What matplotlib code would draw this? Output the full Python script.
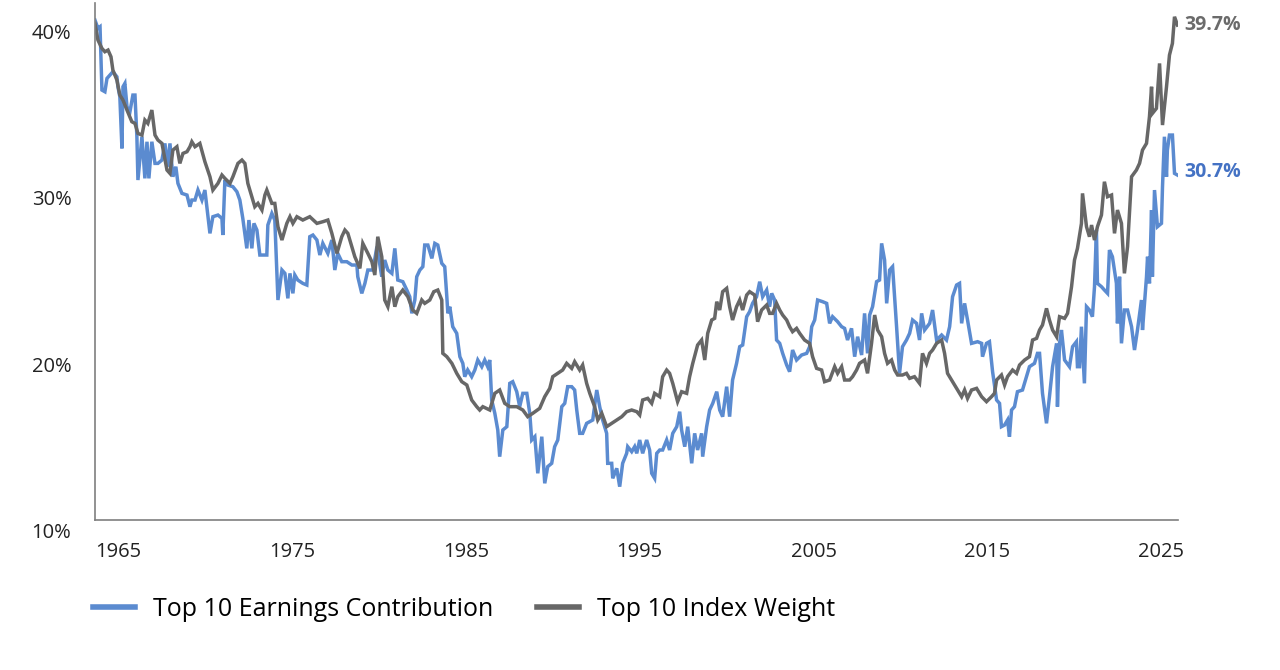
import matplotlib
matplotlib.use("Agg")
import matplotlib.pyplot as plt
import matplotlib.transforms as mtransforms

plt.rcParams['font.family'] = ['Open Sans', 'DejaVu Sans']

# Top 10 Index Weight (%)
weight_years = [
    1963.68, 1963.85, 1964.08, 1964.25, 1964.43, 1964.6, 1964.71, 1964.94, 1965.11, 1965.29,
    1965.52, 1965.8, 1965.98, 1966.15, 1966.38, 1966.55, 1966.72, 1966.95, 1967.13, 1967.3,
    1967.53, 1967.82, 1967.99, 1968.16, 1968.39, 1968.56, 1968.74, 1968.97, 1969.14, 1969.25,
    1969.43, 1969.71, 1970.0, 1970.29, 1970.46, 1970.75, 1970.98, 1971.15, 1971.44, 1971.61,
    1971.9, 1972.13, 1972.3, 1972.47, 1972.7, 1972.87, 1973.05, 1973.28, 1973.45, 1973.56,
    1973.85, 1974.02, 1974.2, 1974.43, 1974.71, 1974.89, 1975.06, 1975.29, 1975.63, 1976.03,
    1976.44, 1976.78, 1977.07, 1977.3, 1977.59, 1977.87, 1978.05, 1978.22, 1978.45, 1978.62,
    1978.91, 1979.08, 1979.37, 1979.6, 1979.77, 1979.94, 1980.17, 1980.34, 1980.52, 1980.75,
    1980.92, 1981.09, 1981.38, 1981.67, 1981.95, 1982.18, 1982.47, 1982.64, 1982.93, 1983.16,
    1983.39, 1983.62, 1983.68, 1983.91, 1984.2, 1984.48, 1984.77, 1985.06, 1985.34, 1985.63,
    1985.8, 1985.98, 1986.38, 1986.67, 1986.95, 1987.24, 1987.53, 1987.93, 1988.28, 1988.56,
    1988.85, 1989.25, 1989.54, 1989.83, 1990.0, 1990.29, 1990.57, 1990.8, 1991.09, 1991.26,
    1991.55, 1991.72, 1991.95, 1992.13, 1992.41, 1992.59, 1992.82, 1993.1, 1993.39, 1993.68,
    1993.97, 1994.25, 1994.54, 1994.83, 1995.0, 1995.17, 1995.46, 1995.69, 1995.86, 1996.15,
    1996.32, 1996.55, 1996.72, 1996.9, 1997.18, 1997.41, 1997.7, 1997.87, 1998.05, 1998.33,
    1998.56, 1998.74, 1998.91, 1999.14, 1999.31, 1999.43, 1999.6, 1999.77, 2000.0, 2000.17,
    2000.34, 2000.57, 2000.75, 2000.92, 2001.15, 2001.32, 2001.61, 2001.78, 2002.01, 2002.3,
    2002.47, 2002.64, 2002.87, 2003.05, 2003.22, 2003.45, 2003.62, 2003.79, 2004.02, 2004.2,
    2004.48, 2004.77, 2004.94, 2005.17, 2005.46, 2005.63, 2005.92, 2006.21, 2006.38, 2006.61,
    2006.78, 2007.07, 2007.24, 2007.47, 2007.64, 2007.93, 2008.1, 2008.33, 2008.51, 2008.68,
    2008.91, 2009.08, 2009.25, 2009.48, 2009.66, 2009.83, 2010.11, 2010.34, 2010.52, 2010.8,
    2011.09, 2011.26, 2011.49, 2011.67, 2011.84, 2012.07, 2012.36, 2012.53, 2012.7, 2012.99,
    2013.28, 2013.51, 2013.68, 2013.85, 2014.08, 2014.37, 2014.66, 2014.94, 2015.23, 2015.4,
    2015.52, 2015.8, 2015.98, 2016.15, 2016.44, 2016.67, 2016.84, 2017.13, 2017.41, 2017.59,
    2017.82, 2017.99, 2018.16, 2018.39, 2018.56, 2018.74, 2018.97, 2019.14, 2019.43, 2019.6,
    2019.83, 2020.0, 2020.17, 2020.4, 2020.46, 2020.69, 2020.86, 2020.98, 2021.15, 2021.32,
    2021.55, 2021.72, 2021.9, 2022.13, 2022.3, 2022.47, 2022.7, 2022.87, 2023.05, 2023.28,
    2023.56, 2023.74, 2023.91, 2024.14, 2024.31, 2024.43, 2024.48, 2024.71, 2024.89, 2025.06,
    2025.29, 2025.46, 2025.63, 2025.75, 2025.92,
]
weight_pct = [
    39.8, 38.8, 38.3, 38.1, 38.2, 37.8, 37.0, 36.4, 35.5, 35.2,
    34.6, 33.9, 33.8, 33.2, 33.1, 34.0, 33.8, 34.6, 33.1, 32.8,
    32.6, 31.0, 30.8, 32.2, 32.4, 31.4, 32.0, 32.1, 32.4, 32.7,
    32.4, 32.6, 31.5, 30.6, 29.8, 30.2, 30.7, 30.5, 30.2, 30.6,
    31.4, 31.6, 31.4, 30.2, 29.4, 28.8, 29.0, 28.6, 29.5, 29.8,
    29.0, 29.0, 27.6, 26.8, 27.8, 28.2, 27.8, 28.2, 28.0, 28.2,
    27.8, 27.9, 28.0, 27.2, 26.0, 27.0, 27.4, 27.2, 26.4, 25.8,
    25.1, 26.6, 26.0, 25.5, 24.7, 27.0, 25.8, 23.2, 22.8, 24.0,
    22.8, 23.4, 23.8, 23.4, 22.6, 22.4, 23.2, 23.0, 23.2, 23.7,
    23.8, 23.2, 20.0, 19.8, 19.4, 18.8, 18.3, 18.1, 17.2, 16.8,
    16.6, 16.8, 16.6, 17.6, 17.8, 17.0, 16.8, 16.8, 16.6, 16.2,
    16.4, 16.7, 17.4, 17.9, 18.6, 18.8, 19.0, 19.4, 19.1, 19.5,
    19.0, 19.3, 18.2, 17.6, 16.8, 16.0, 16.4, 15.6, 15.8, 16.0,
    16.2, 16.5, 16.6, 16.5, 16.3, 17.2, 17.3, 17.0, 17.6, 17.4,
    18.6, 19.0, 18.8, 18.2, 17.1, 17.7, 17.6, 18.6, 19.4, 20.5,
    20.8, 19.6, 21.2, 22.0, 22.1, 23.1, 22.6, 23.7, 23.9, 22.8,
    22.0, 22.8, 23.2, 22.6, 23.5, 23.7, 23.5, 21.9, 22.6, 22.9,
    22.4, 22.4, 23.0, 22.6, 22.3, 22.0, 21.6, 21.3, 21.5, 21.2,
    20.8, 20.6, 19.8, 19.1, 19.0, 18.3, 18.4, 19.2, 18.8, 19.2,
    18.4, 18.4, 18.6, 19.0, 19.4, 19.6, 18.8, 20.6, 22.3, 21.4,
    21.0, 20.0, 19.4, 19.6, 19.0, 18.7, 18.7, 18.8, 18.5, 18.6,
    18.2, 20.0, 19.4, 20.0, 20.2, 20.6, 20.8, 20.0, 18.8, 18.3,
    17.8, 17.4, 17.8, 17.3, 17.8, 17.9, 17.4, 17.1, 17.4, 17.6,
    18.4, 18.7, 18.1, 18.6, 19.0, 18.8, 19.3, 19.6, 19.8, 20.8,
    20.9, 21.4, 21.7, 22.7, 22.0, 21.4, 21.0, 22.2, 22.1, 22.4,
    24.0, 25.6, 26.3, 27.8, 29.6, 27.6, 27.0, 27.7, 26.8, 27.6,
    28.3, 30.3, 29.4, 29.5, 27.2, 28.6, 27.8, 24.8, 26.4, 30.6,
    31.0, 31.4, 32.2, 32.6, 34.2, 36.0, 34.4, 34.7, 37.4, 33.7,
    36.0, 37.9, 38.6, 40.2, 39.7,
]

# Top 10 Earnings Contribution (%)
earn_years = [
    1963.68, 1963.85, 1963.97, 1964.08, 1964.25, 1964.37, 1964.54, 1964.71, 1964.94, 1965.0,
    1965.11, 1965.23, 1965.29, 1965.4, 1965.52, 1965.69, 1965.86, 1965.98, 1966.09, 1966.15,
    1966.38, 1966.55, 1966.67, 1966.78, 1966.95, 1967.13, 1967.3, 1967.53, 1967.7, 1967.87,
    1967.99, 1968.16, 1968.33, 1968.45, 1968.68, 1968.97, 1969.14, 1969.25, 1969.43, 1969.6,
    1969.83, 1970.0, 1970.29, 1970.46, 1970.75, 1970.98, 1971.03, 1971.15, 1971.32, 1971.61,
    1971.84, 1972.01, 1972.18, 1972.41, 1972.53, 1972.7, 1972.82, 1972.99, 1973.16, 1973.33,
    1973.56, 1973.62, 1973.85, 1974.02, 1974.2, 1974.43, 1974.6, 1974.77, 1974.89, 1975.06,
    1975.17, 1975.34, 1975.63, 1975.86, 1976.03, 1976.21, 1976.44, 1976.61, 1976.78, 1977.07,
    1977.3, 1977.47, 1977.64, 1977.87, 1978.16, 1978.45, 1978.74, 1978.79, 1979.02, 1979.2,
    1979.37, 1979.66, 1979.89, 1980.06, 1980.17, 1980.34, 1980.52, 1980.75, 1980.92, 1981.09,
    1981.38, 1981.61, 1981.78, 1981.9, 1982.07, 1982.18, 1982.36, 1982.53, 1982.64, 1982.82,
    1983.05, 1983.22, 1983.39, 1983.62, 1983.79, 1983.91, 1983.97, 1984.08, 1984.25, 1984.48,
    1984.66, 1984.83, 1984.94, 1985.11, 1985.34, 1985.52, 1985.69, 1985.92, 1986.09, 1986.26,
    1986.38, 1986.49, 1986.67, 1986.84, 1986.95, 1987.13, 1987.36, 1987.53, 1987.7, 1987.93,
    1988.1, 1988.28, 1988.51, 1988.68, 1988.79, 1988.97, 1989.14, 1989.37, 1989.54, 1989.71,
    1989.94, 1990.11, 1990.29, 1990.52, 1990.69, 1990.86, 1991.09, 1991.26, 1991.38, 1991.55,
    1991.72, 1991.95, 1992.13, 1992.3, 1992.53, 1992.7, 1992.87, 1993.1, 1993.16, 1993.39,
    1993.45, 1993.68, 1993.85, 1994.02, 1994.25, 1994.31, 1994.54, 1994.71, 1994.83, 1995.0,
    1995.17, 1995.4, 1995.57, 1995.69, 1995.86, 1995.98, 1996.15, 1996.32, 1996.55, 1996.72,
    1996.9, 1997.13, 1997.3, 1997.41, 1997.59, 1997.76, 1997.99, 1998.16, 1998.33, 1998.56,
    1998.62, 1998.85, 1999.02, 1999.2, 1999.43, 1999.6, 1999.77, 2000.0, 2000.17, 2000.34,
    2000.57, 2000.75, 2000.92, 2001.15, 2001.32, 2001.49, 2001.72, 2001.9, 2002.07, 2002.3,
    2002.47, 2002.59, 2002.76, 2002.87, 2003.05, 2003.22, 2003.45, 2003.62, 2003.79, 2004.02,
    2004.31, 2004.6, 2004.77, 2004.89, 2005.06, 2005.23, 2005.52, 2005.75, 2005.92, 2006.09,
    2006.38, 2006.61, 2006.78, 2006.95, 2007.18, 2007.36, 2007.53, 2007.76, 2007.93, 2008.1,
    2008.22, 2008.39, 2008.62, 2008.79, 2008.91, 2009.08, 2009.2, 2009.37, 2009.54, 2009.77,
    2009.94, 2010.11, 2010.34, 2010.52, 2010.69, 2010.92, 2011.09, 2011.21, 2011.38, 2011.67,
    2011.84, 2012.07, 2012.36, 2012.64, 2012.82, 2012.99, 2013.22, 2013.39, 2013.51, 2013.68,
    2013.85, 2014.08, 2014.43, 2014.66, 2014.71, 2014.94, 2015.11, 2015.29, 2015.52, 2015.69,
    2015.8, 2015.98, 2016.15, 2016.26, 2016.38, 2016.55, 2016.72, 2017.01, 2017.24, 2017.41,
    2017.7, 2017.87, 2017.99, 2018.16, 2018.39, 2018.56, 2018.74, 2018.97, 2019.02, 2019.14,
    2019.25, 2019.43, 2019.71, 2019.89, 2020.11, 2020.17, 2020.29, 2020.4, 2020.57, 2020.69,
    2020.86, 2021.03, 2021.15, 2021.26, 2021.32, 2021.55, 2021.72, 2021.9, 2022.01, 2022.18,
    2022.41, 2022.47, 2022.59, 2022.7, 2022.87, 2023.05, 2023.28, 2023.45, 2023.62, 2023.85,
    2023.91, 2024.14, 2024.2, 2024.31, 2024.43, 2024.48, 2024.6, 2024.77, 2025.0, 2025.06,
    2025.17, 2025.29, 2025.34, 2025.46, 2025.63, 2025.75, 2025.92,
]
earn_pct = [
    40.0, 39.5, 39.6, 35.8, 35.7, 36.5, 36.7, 36.9, 36.6, 36.0,
    35.4, 32.3, 36.0, 36.2, 34.8, 34.5, 35.5, 35.5, 33.0, 30.4,
    33.0, 30.5, 32.7, 30.5, 32.7, 31.4, 31.4, 31.6, 32.6, 31.2,
    32.6, 30.6, 31.2, 30.2, 29.6, 29.5, 28.8, 29.2, 29.2, 29.8,
    29.2, 29.8, 27.2, 28.2, 28.3, 28.1, 27.1, 30.4, 30.1, 30.0,
    29.7, 29.2, 28.1, 26.3, 28.0, 26.3, 27.8, 27.4, 25.9, 25.9,
    25.9, 27.7, 28.4, 28.0, 23.2, 25.0, 24.8, 23.3, 24.8, 23.6,
    24.7, 24.4, 24.2, 24.1, 27.0, 27.1, 26.8, 25.9, 26.6, 26.0,
    26.8, 25.0, 26.0, 25.5, 25.5, 25.3, 25.3, 24.6, 23.6, 24.2,
    25.0, 25.0, 26.4, 25.3, 24.6, 25.6, 25.0, 24.8, 26.3, 24.4,
    24.3, 23.8, 23.4, 22.4, 23.2, 24.6, 25.0, 25.2, 26.5, 26.5,
    25.7, 26.6, 26.5, 25.4, 25.2, 23.4, 22.4, 22.8, 21.6, 21.2,
    19.8, 19.4, 18.6, 19.0, 18.6, 19.0, 19.6, 19.2, 19.6, 19.2,
    19.6, 17.2, 16.4, 15.4, 13.8, 15.4, 15.6, 18.2, 18.3, 17.7,
    16.8, 17.6, 17.6, 16.4, 14.8, 15.0, 12.8, 15.0, 12.2, 13.2,
    13.4, 14.4, 14.8, 16.8, 17.0, 18.0, 18.0, 17.8, 16.6, 15.2,
    15.2, 15.8, 15.9, 16.0, 17.8, 16.8, 16.0, 15.2, 13.4, 13.4,
    12.5, 13.1, 12.0, 13.4, 14.0, 14.4, 14.1, 14.4, 14.0, 14.8,
    14.0, 14.8, 14.2, 12.8, 12.5, 14.0, 14.2, 14.2, 14.8, 14.2,
    15.2, 15.6, 16.5, 15.4, 14.4, 15.6, 13.4, 15.2, 14.2, 15.2,
    13.8, 15.6, 16.6, 17.0, 17.7, 16.6, 16.2, 18.0, 16.2, 18.4,
    19.4, 20.4, 20.5, 22.2, 22.5, 23.0, 23.4, 24.3, 23.4, 23.8,
    22.8, 23.6, 23.2, 20.8, 20.6, 20.0, 19.3, 18.9, 20.2, 19.6,
    19.9, 20.0, 20.4, 21.6, 22.0, 23.2, 23.1, 23.0, 21.8, 22.2,
    21.9, 21.6, 21.5, 20.8, 21.5, 19.8, 21.0, 19.9, 22.4, 20.0,
    22.3, 22.8, 24.3, 24.4, 26.6, 25.6, 23.0, 25.0, 25.2, 21.6,
    18.8, 20.4, 20.8, 21.2, 22.0, 21.8, 20.8, 22.4, 21.4, 21.8,
    22.6, 20.8, 21.1, 20.8, 21.6, 23.4, 24.1, 24.2, 21.8, 23.0,
    22.0, 20.6, 20.7, 20.6, 19.8, 20.6, 20.7, 18.9, 17.2, 17.0,
    15.6, 15.7, 16.0, 15.0, 16.6, 16.8, 17.7, 17.8, 18.6, 19.2,
    19.4, 20.0, 20.0, 17.6, 15.8, 17.4, 19.2, 20.6, 16.8, 20.6,
    21.4, 19.6, 19.2, 20.4, 20.7, 19.2, 19.2, 21.6, 18.2, 22.8,
    22.6, 22.2, 24.0, 27.4, 24.2, 24.0, 23.8, 23.6, 26.2, 25.8,
    24.2, 21.8, 24.6, 20.6, 22.6, 22.6, 21.6, 20.2, 21.4, 23.2,
    21.4, 24.6, 25.8, 24.2, 28.6, 24.6, 29.8, 27.6, 27.8, 30.0,
    33.0, 30.6, 32.2, 33.1, 33.1, 30.8, 30.7,
]

year_ticks = [1965, 1975, 1985, 1995, 2005, 2015, 2025]
pct_ticks = [10, 20, 30, 40]

blue = '#5b8bd0'
gray = '#676767'

fig = plt.figure(figsize=(12.8, 6.7), dpi=100)
ax = fig.add_axes([0.0742, 0.2239, 0.8461, 0.771])

ax.plot(earn_years, earn_pct, color=blue, lw=2.5, solid_joinstyle='miter',
        label='Top 10 Earnings Contribution')
ax.plot(weight_years, weight_pct, color=gray, lw=2.5, solid_joinstyle='miter',
        label='Top 10 Index Weight')

ax.set_xlim(1963.68, 2025.95)
ax.set_ylim(10, 41)
ax.set_xticks(year_ticks)
ax.set_xticklabels([str(y) for y in year_ticks])
ax.set_yticks(pct_ticks)
ax.set_yticklabels(['%d%%' % p for p in pct_ticks])
ax.tick_params(length=0, labelsize=14.5, colors='#222222')
ax.tick_params(axis='y', pad=17)
ax.tick_params(axis='x', pad=16)

# the y labels sit a little below their gridline positions in the original
shift = mtransforms.ScaledTranslation(0, -11 / 100, fig.dpi_scale_trans)
for lab in ax.get_yticklabels():
    lab.set_transform(lab.get_transform() + shift)

for side in ['top', 'right']:
    ax.spines[side].set_visible(False)
for side in ['left', 'bottom']:
    ax.spines[side].set_color('#7f7f7f')
    ax.spines[side].set_linewidth(1.2)

ax.annotate('%.1f%%' % weight_pct[-1], xy=(weight_years[-1], weight_pct[-1]),
            xytext=(5, 0), textcoords='offset points', va='center', ha='left',
            fontsize=14, fontweight='bold', color='#6b6b6b', annotation_clip=False)
ax.annotate('%.1f%%' % earn_pct[-1], xy=(earn_years[-1], earn_pct[-1]),
            xytext=(5, 2), textcoords='offset points', va='center', ha='left',
            fontsize=14, fontweight='bold', color='#4472c4', annotation_clip=False)

leg = fig.legend(loc='center left', bbox_to_anchor=(0.055, 0.09), ncol=2,
                 frameon=False, fontsize=18, handlelength=1.7, columnspacing=1.75,
                 handletextpad=0.7)
for line in leg.get_lines():
    line.set_linewidth(4)

plt.savefig('out.png', dpi=100)
